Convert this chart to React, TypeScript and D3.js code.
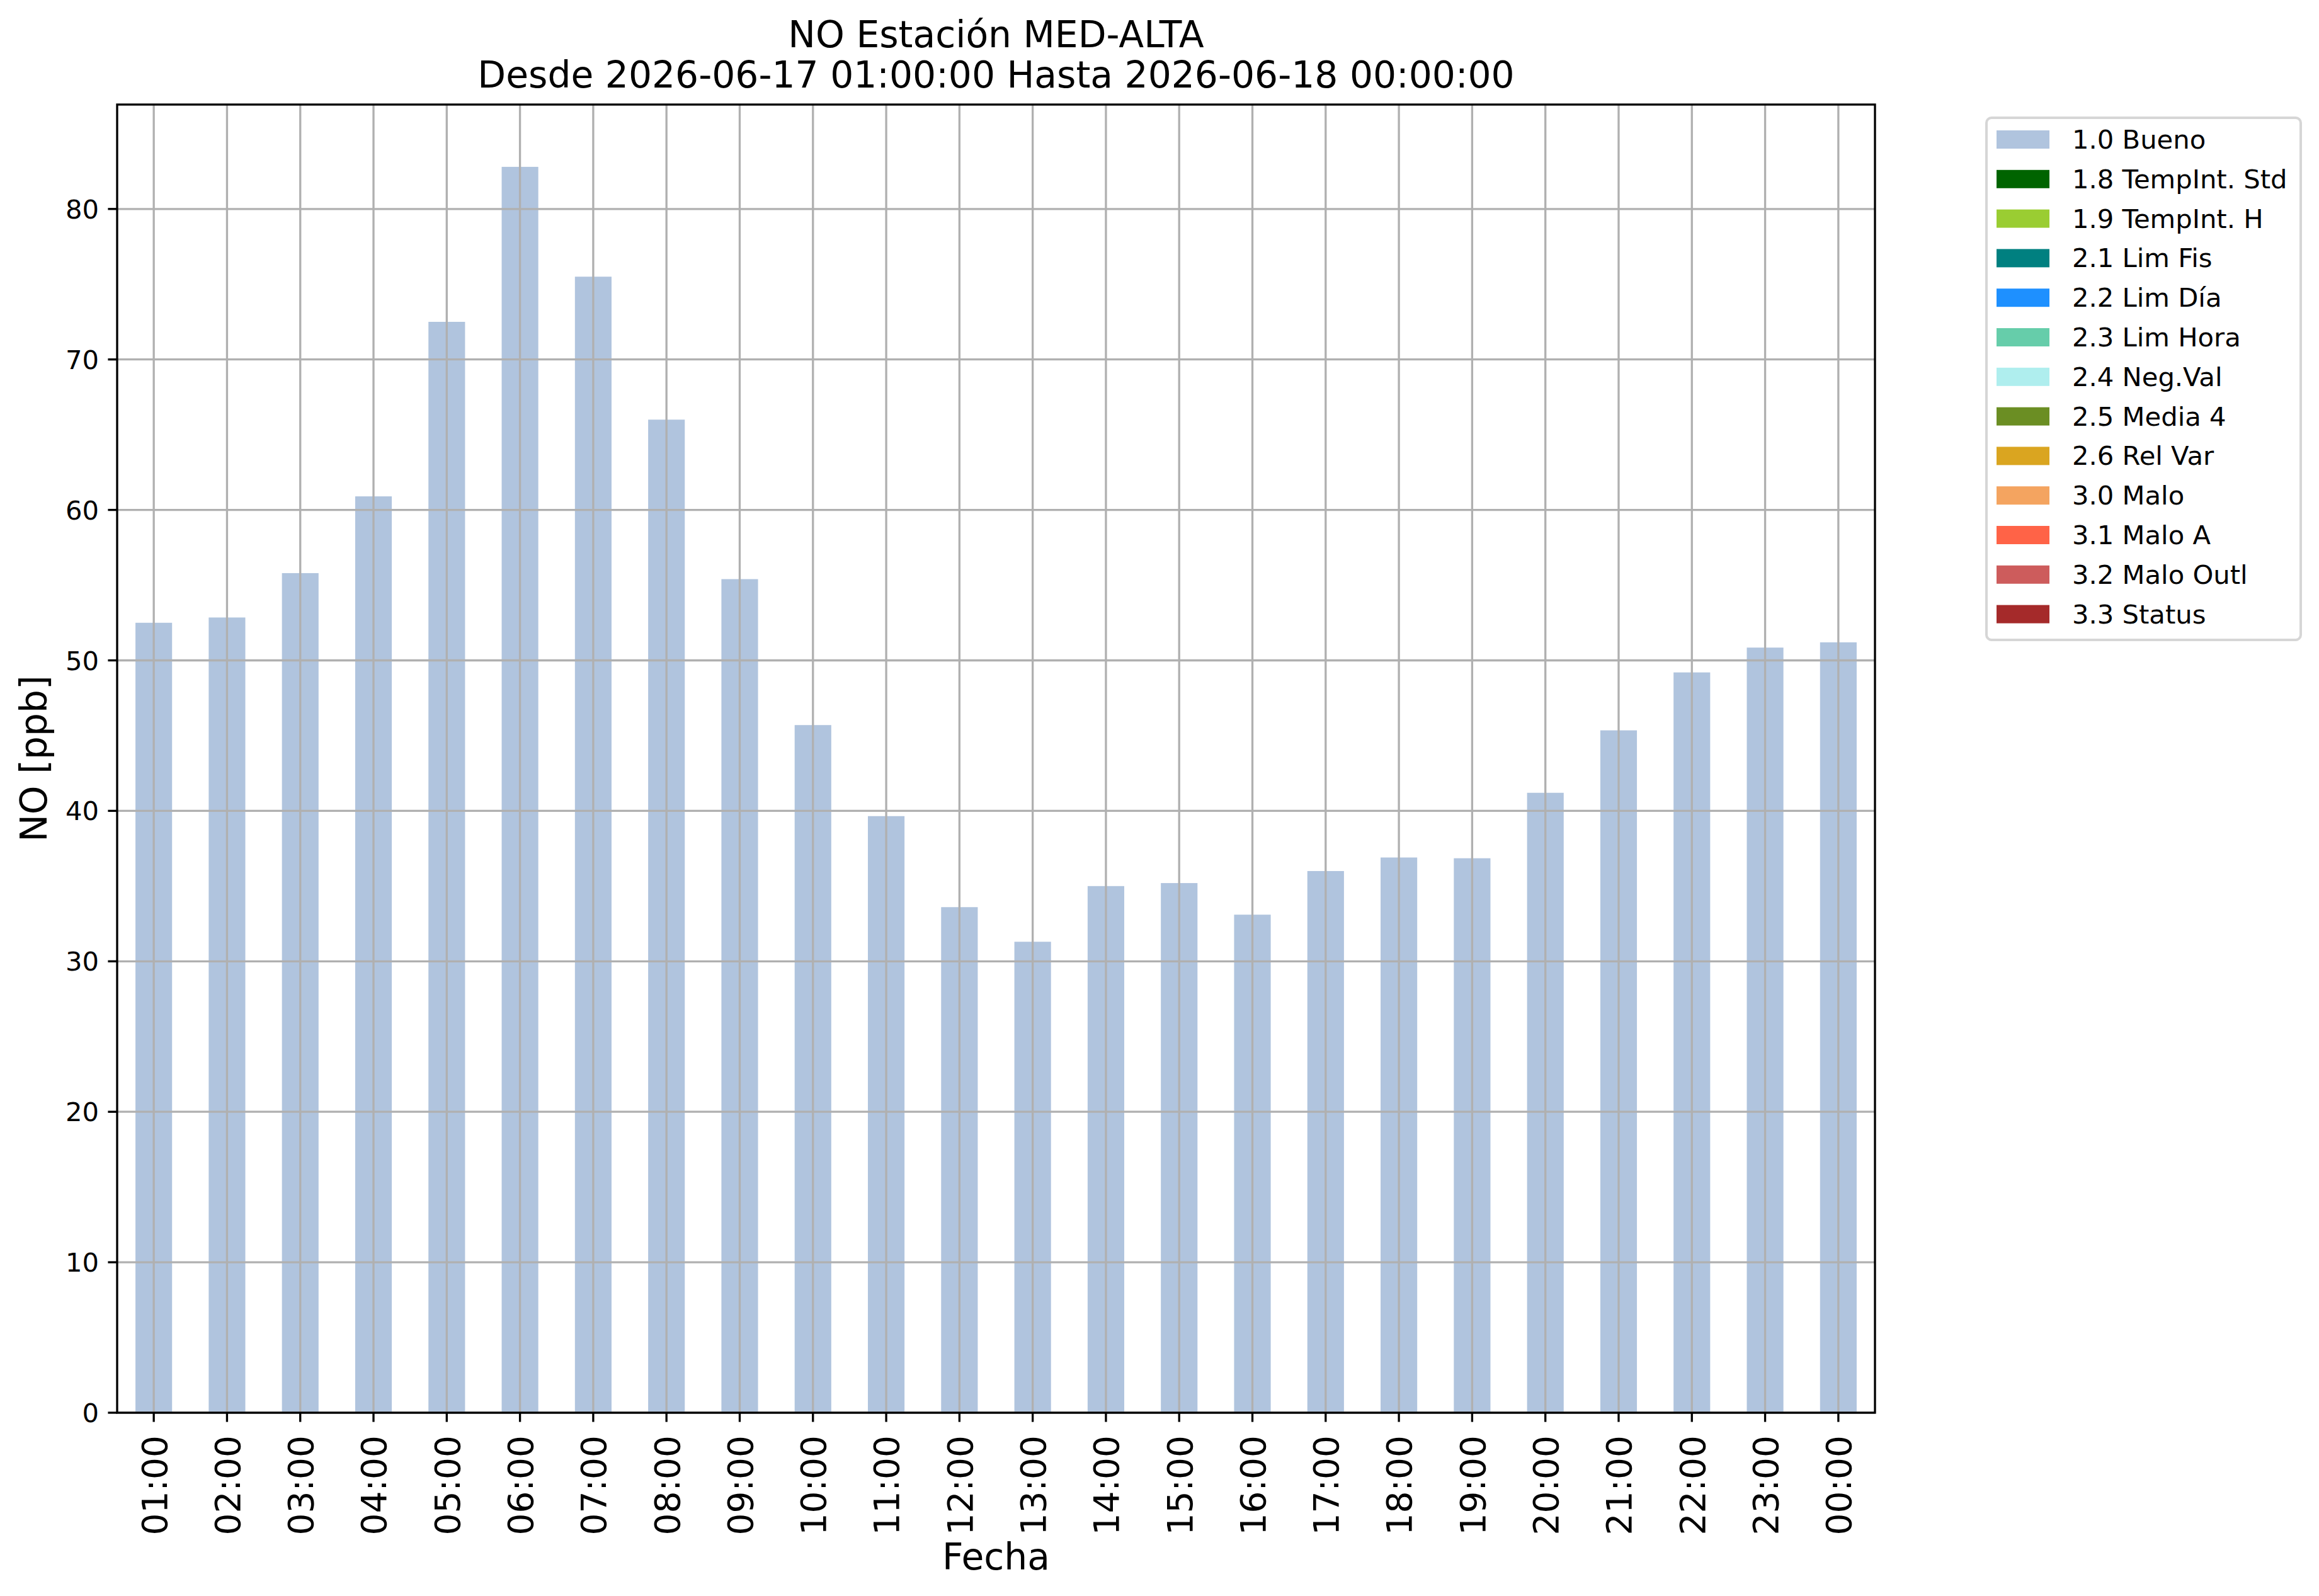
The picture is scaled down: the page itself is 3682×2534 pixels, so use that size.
import { useEffect, useRef } from "react"
import * as d3 from "d3"

// hourly NO concentrations, station MED-ALTA
const hours = [
  "01:00", "02:00", "03:00", "04:00", "05:00", "06:00", "07:00", "08:00",
  "09:00", "10:00", "11:00", "12:00", "13:00", "14:00", "15:00", "16:00",
  "17:00", "18:00", "19:00", "20:00", "21:00", "22:00", "23:00", "00:00",
]
const noValues = [
  52.5, 52.85, 55.8, 60.9, 72.5, 82.8, 75.5, 66.0,
  55.4, 45.7, 39.65, 33.6, 31.3, 35.0, 35.2, 33.1,
  36.0, 36.9, 36.85, 41.2, 45.35, 49.2, 50.85, 51.2,
]
const yTicks = [0, 10, 20, 30, 40, 50, 60, 70, 80]

const legendLabels = [
  "1.0 Bueno", "1.8 TempInt. Std", "1.9 TempInt. H", "2.1 Lim Fis", "2.2 Lim Día",
  "2.3 Lim Hora", "2.4 Neg.Val", "2.5 Media 4", "2.6 Rel Var", "3.0 Malo",
  "3.1 Malo A", "3.2 Malo Outl", "3.3 Status",
]
const legendColors = [
  "#b0c4de", "#006400", "#9acd32", "#008080", "#1e90ff",
  "#66cdaa", "#afeeee", "#6b8e23", "#daa520", "#f4a460",
  "#ff6347", "#cd5c5c", "#a52a2a",
]

const W = 3682
const H = 2534
const left = 186
const right = 2977
const top = 166
const bottom = 2243
const font = "DejaVu Sans"

export default function App() {
  const svgRef = useRef<SVGSVGElement>(null)

  useEffect(() => {
    document.body.style.margin = "0"
    if (!svgRef.current) return
    const svg = d3.select(svgRef.current)
    svg.selectAll("*").remove()

    const x = d3.scaleBand<string>()
      .domain(hours)
      .range([left, right])
      .paddingInner(0.5)
      .paddingOuter(0.25)
    const yMax = (d3.max(noValues) as number) * 1.05
    const y = d3.scaleLinear().domain([0, yMax]).range([bottom, top])

    svg.append("rect").attr("width", W).attr("height", H).attr("fill", "#fff")

    // bars
    svg.append("g")
      .selectAll("rect")
      .data(noValues)
      .join("rect")
      .attr("x", (_, i) => x(hours[i]) as number)
      .attr("width", x.bandwidth())
      .attr("y", d => y(d))
      .attr("height", d => bottom - y(d))
      .attr("fill", legendColors[0])

    // grid on top of bars
    const grid = svg.append("g").attr("stroke", "#b0b0b0").attr("stroke-width", 3.33)
    hours.forEach(h => {
      const cx = (x(h) as number) + x.bandwidth() / 2
      grid.append("line").attr("x1", cx).attr("x2", cx).attr("y1", top).attr("y2", bottom)
    })
    yTicks.forEach(t => {
      grid.append("line").attr("x1", left).attr("x2", right).attr("y1", y(t)).attr("y2", y(t))
    })

    // frame
    svg.append("rect")
      .attr("x", left).attr("y", top)
      .attr("width", right - left).attr("height", bottom - top)
      .attr("fill", "none").attr("stroke", "#000").attr("stroke-width", 3.33)

    // y ticks
    const yg = svg.append("g")
    yTicks.forEach(t => {
      yg.append("line").attr("x1", left - 14.6).attr("x2", left)
        .attr("y1", y(t)).attr("y2", y(t)).attr("stroke", "#000").attr("stroke-width", 3.33)
      yg.append("text")
        .attr("x", left - 29).attr("y", y(t)).attr("dy", "0.36em")
        .attr("text-anchor", "end").attr("font-family", font).attr("font-size", 41.7)
        .text(t)
    })

    // x ticks, rotated labels
    const xg = svg.append("g")
    hours.forEach(h => {
      const cx = (x(h) as number) + x.bandwidth() / 2
      xg.append("line").attr("x1", cx).attr("x2", cx)
        .attr("y1", bottom).attr("y2", bottom + 14.6).attr("stroke", "#000").attr("stroke-width", 3.33)
      xg.append("text")
        .attr("transform", `translate(${cx},${bottom + 36}) rotate(-90)`)
        .attr("dy", "0.37em")
        .attr("text-anchor", "end").attr("font-family", font).attr("font-size", 55)
        .text(h)
    })

    // axis labels
    svg.append("text")
      .attr("x", (left + right) / 2).attr("y", 2492)
      .attr("text-anchor", "middle").attr("font-family", font).attr("font-size", 58.3)
      .text("Fecha")
    svg.append("text")
      .attr("transform", `translate(74,${(top + bottom) / 2}) rotate(-90)`)
      .attr("text-anchor", "middle").attr("font-family", font).attr("font-size", 58.3)
      .text("NO [ppb]")

    // title
    const title = svg.append("text")
      .attr("text-anchor", "middle").attr("font-family", font).attr("font-size", 58.3)
    title.append("tspan").attr("x", (left + right) / 2).attr("y", 75).text("NO Estación MED-ALTA")
    title.append("tspan").attr("x", (left + right) / 2).attr("y", 139)
      .text("Desde 2026-06-17 01:00:00 Hasta 2026-06-18 00:00:00")

    // legend
    const lg = svg.append("g")
    lg.append("rect")
      .attr("x", 3154).attr("y", 187).attr("width", 499).attr("height", 829)
      .attr("rx", 8).attr("fill", "#fff").attr("stroke", "#d6d6d6").attr("stroke-width", 4)
    const row = d3.scaleLinear().domain([0, 1]).range([207, 207 + 62.8])
    legendLabels.forEach((label, i) => {
      lg.append("rect")
        .attr("x", 3170).attr("y", row(i)).attr("width", 84).attr("height", 29)
        .attr("fill", legendColors[i])
      lg.append("text")
        .attr("x", 3290).attr("y", row(i) + 29)
        .attr("font-family", font).attr("font-size", 41.7)
        .text(label)
    })
  }, [])

  return (
    <svg
      ref={svgRef}
      width={W}
      height={H}
      style={{ position: "absolute", left: 0, top: 0, display: "block" }}
    />
  )
}
